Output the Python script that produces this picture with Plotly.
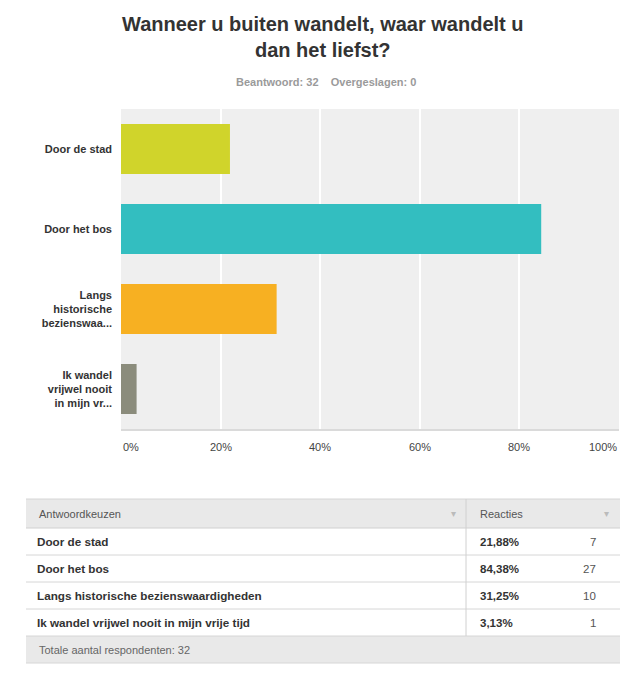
import plotly.graph_objects as go

# ---- data ----
categories = ["Door de stad", "Door het bos", "Langs historische bezienswaardigheden",
              "Ik wandel vrijwel nooit in mijn vrije tijd"]
axis_labels = ["Door de stad", "Door het bos", "Langs<br>historische<br>bezienswaa...",
               "Ik wandel<br>vrijwel nooit<br>in mijn vr..."]
percentages = [21.88, 84.38, 31.25, 3.13]
counts = [7, 27, 10, 1]
bar_colors = ["#D0D42B", "#33BEC0", "#F7B022", "#8B8C7C"]
tick_vals = [0, 20, 40, 60, 80, 100]
tick_labels = ["0%", "20%", "40%", "60%", "80%", "100%"]
answered = 32
skipped = 0
total_respondents = 32

FONT = "Arial, Liberation Sans, sans-serif"
W, H = 635, 683
L, R, T, B = 121, 619, 109, 429


def px(xp):
    return (xp - L) / (R - L)


def py(yp):
    return (B - yp) / (B - T)


fig = go.Figure()
fig.add_trace(go.Bar(
    y=axis_labels, x=percentages, orientation="h",
    marker=dict(color=bar_colors, line=dict(width=0)),
    hoverinfo="skip",
))

annotations = []
shapes = []

# title & subtitle
annotations.append(dict(
    text="Wanneer u buiten wandelt, waar wandelt u<br>dan het liefst?",
    xref="paper", yref="paper", x=px(323), y=py(37), xanchor="center", yanchor="middle",
    showarrow=False, align="center",
    font=dict(family=FONT, size=20, color="#333333", weight="bold")))
annotations.append(dict(
    text=f"Beantwoord: {answered}&nbsp;&nbsp;&nbsp;&nbsp;Overgeslagen: {skipped}",
    xref="paper", yref="paper", x=px(326), y=py(82), xanchor="center", yanchor="middle",
    showarrow=False,
    font=dict(family=FONT, size=11, color="#9A9A9A", weight="bold")))

# x tick labels (ends aligned to plot edges)
for v, t in zip(tick_vals, tick_labels):
    anchor = "left" if v == tick_vals[0] else ("right" if v == tick_vals[-1] else "center")
    annotations.append(dict(
        text=t, xref="x", yref="paper", x=v, y=py(447), xanchor=anchor, yanchor="middle",
        showarrow=False, font=dict(family=FONT, size=11, color="#444444")))

# ---- table ----
tl, tr, tdiv = 26, 620, 466
header_top, row_h = 499, 27
header_bot = header_top + 29
rows_bot = header_bot + row_h * len(categories)
footer_bot = rows_bot + row_h

# header background
shapes.append(dict(type="rect", xref="paper", yref="paper",
                   x0=px(tl), x1=px(tr), y0=py(header_top), y1=py(header_bot),
                   fillcolor="#E9E9E9", line=dict(width=0), layer="above"))
# footer background
shapes.append(dict(type="rect", xref="paper", yref="paper",
                   x0=px(tl), x1=px(tr), y0=py(rows_bot), y1=py(footer_bot),
                   fillcolor="#E9E9E9", line=dict(width=0), layer="above"))
# horizontal lines
for yy, col in [(header_top, "#D6D6D6"), (header_bot, "#D0D0D0"), (footer_bot, "#D6D6D6")] + \
        [(header_bot + row_h * (i + 1), "#D6D6D6") for i in range(len(categories))]:
    shapes.append(dict(type="line", xref="paper", yref="paper",
                       x0=px(tl), x1=px(tr), y0=py(yy), y1=py(yy),
                       line=dict(color=col, width=1), layer="above"))
# vertical divider
shapes.append(dict(type="line", xref="paper", yref="paper",
                   x0=px(tdiv), x1=px(tdiv), y0=py(header_top), y1=py(rows_bot),
                   line=dict(color="#D0D0D0", width=1), layer="above"))

hc = (header_top + header_bot) / 2
annotations.append(dict(text="Antwoordkeuzen", xref="paper", yref="paper",
                        x=px(37), y=py(hc), xanchor="left", yanchor="middle", showarrow=False,
                        font=dict(family=FONT, size=11, color="#555555")))
annotations.append(dict(text="Reacties", xref="paper", yref="paper",
                        x=px(478), y=py(hc), xanchor="left", yanchor="middle", showarrow=False,
                        font=dict(family=FONT, size=11, color="#555555")))
for ax_ in (453, 606):
    annotations.append(dict(text="▾", xref="paper", yref="paper",
                            x=px(ax_), y=py(hc), xanchor="center", yanchor="middle",
                            showarrow=False, font=dict(family=FONT, size=10, color="#BBBBBB")))

for i, (c, p, n) in enumerate(zip(categories, percentages, counts)):
    yc = header_bot + row_h * i + row_h / 2
    annotations.append(dict(text=c, xref="paper", yref="paper",
                            x=px(35), y=py(yc), xanchor="left", yanchor="middle", showarrow=False,
                            font=dict(family=FONT, size=11.7, color="#333333", weight="bold")))
    annotations.append(dict(text=f"{p:.2f}%".replace(".", ","), xref="paper", yref="paper",
                            x=px(478), y=py(yc), xanchor="left", yanchor="middle", showarrow=False,
                            font=dict(family=FONT, size=11.5, color="#333333", weight="bold")))
    annotations.append(dict(text=str(n), xref="paper", yref="paper",
                            x=px(598), y=py(yc), xanchor="right", yanchor="middle", showarrow=False,
                            font=dict(family=FONT, size=11.5, color="#555555")))

annotations.append(dict(text=f"Totale aantal respondenten: {total_respondents}",
                        xref="paper", yref="paper",
                        x=px(37), y=py((rows_bot + footer_bot) / 2), xanchor="left", yanchor="middle",
                        showarrow=False, font=dict(family=FONT, size=11, color="#666666")))

fig.update_layout(
    width=W, height=H,
    margin=dict(l=L, r=W - R, t=T, b=H - B, pad=0),
    paper_bgcolor="white", plot_bgcolor="#EFEFEF",
    bargap=0.375, showlegend=False,
    font=dict(family=FONT),
    xaxis=dict(range=[0, 100], tickvals=tick_vals[1:-1], showticklabels=False,
               showgrid=True, gridcolor="white", gridwidth=2, zeroline=False,
               showline=True, linecolor="#DADADA", linewidth=2, ticks="", fixedrange=True),
    yaxis=dict(autorange="reversed", ticks="", showgrid=False, zeroline=False,
               tickfont=dict(family=FONT, size=11, color="#333333", weight="bold"),
               ticklabelstandoff=8, fixedrange=True),
    annotations=annotations, shapes=shapes,
)

fig.write_html("out.html", config={"displayModeBar": False},
               post_script="document.body.style.margin='0';")
